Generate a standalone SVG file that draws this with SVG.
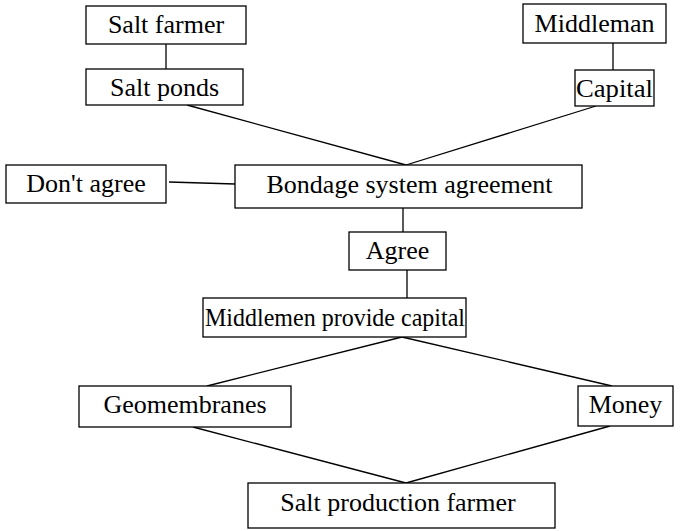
<svg xmlns="http://www.w3.org/2000/svg" width="684" height="531" viewBox="0 0 684 531">
<style>
rect{fill:#fff;stroke:#000;stroke-width:1.3}
text{font-family:"Liberation Serif","Times New Roman",serif;font-size:26px;fill:#000;text-anchor:middle}
#connectors line{stroke:#000;stroke-width:1.3}
</style>
<rect x="0" y="0" width="684" height="531" style="stroke:none"/>
<g id="connectors">
<line x1="166" y1="44" x2="166" y2="69"/>
<line x1="613" y1="43" x2="613" y2="70"/>
<line x1="187" y1="105" x2="406" y2="165"/>
<line x1="596" y1="106" x2="406" y2="165"/>
<line x1="169" y1="182" x2="235" y2="184"/>
<line x1="403" y1="208" x2="403" y2="232"/>
<line x1="407" y1="270" x2="407" y2="298"/>
<line x1="402" y1="337" x2="207" y2="386"/>
<line x1="402" y1="337" x2="612" y2="386"/>
<line x1="193" y1="427" x2="406" y2="483"/>
<line x1="610" y1="426" x2="406" y2="483"/>
</g>
<g id="salt-farmer"><rect x="86" y="6" width="160" height="38"/><text x="166" y="33">Salt farmer</text></g>
<g id="salt-ponds"><rect x="86" y="69" width="157" height="36"/><text x="164.5" y="96">Salt ponds</text></g>
<g id="middleman"><rect x="523" y="4" width="143" height="39"/><text x="594.5" y="32">Middleman</text></g>
<g id="capital"><rect x="575" y="70" width="79" height="36"/><text x="614.5" y="97" textLength="77" lengthAdjust="spacingAndGlyphs">Capital</text></g>
<g id="dont-agree"><rect x="6" y="165" width="160" height="38"/><text x="86" y="192">Don't agree</text></g>
<g id="bondage"><rect x="235" y="165" width="347" height="43"/><text x="409.5" y="193">Bondage system agreement</text></g>
<g id="agree"><rect x="349" y="232" width="97" height="38"/><text x="397.5" y="259">Agree</text></g>
<g id="middlemen-provide"><rect x="203" y="298" width="263" height="39"/><text x="335" y="326" textLength="260" lengthAdjust="spacingAndGlyphs">Middlemen provide capital</text></g>
<g id="geomembranes"><rect x="79" y="386" width="212" height="41"/><text x="185" y="413">Geomembranes</text></g>
<g id="money"><rect x="578" y="386" width="95" height="40"/><text x="625.5" y="413">Money</text></g>
<g id="salt-production"><rect x="248" y="483" width="307" height="45"/><text x="398" y="511">Salt production farmer</text></g>
</svg>
